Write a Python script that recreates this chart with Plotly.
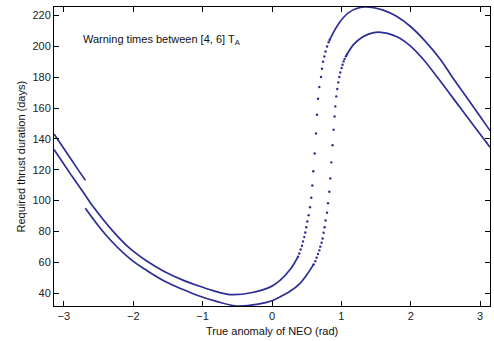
import plotly.graph_objects as go

PI = 3.141592653589793

# Short stub of the upper branch at the far left
a_x = [-PI, -3.0, -2.9, -2.8, -2.69]
a_y = [143.2, 133.8, 127.2, 120.4, 113.2]

# Curve B: smooth parts (left / right) and the sparse dots in the steep part
b_left_x = [-PI, -2.9, -2.69, -2.57, -2.3, -2.04, -1.8, -1.56, -1.3, -1.08, -0.85, -0.6, -0.3, 0.0, 0.12, 0.264, 0.32, 0.375]
b_left_y = [133.1, 117.0, 103.4, 95.6, 80.5, 68.6, 60.6, 54.2, 48.7, 45.0, 41.6, 39.0, 40.2, 44.5, 48.4, 55.4, 59.2, 63.6]
b_dot_x = [0.375, 0.393, 0.412, 0.432, 0.447, 0.465, 0.48, 0.494, 0.509, 0.528, 0.548, 0.566, 0.581,
           0.595, 0.614, 0.634, 0.648, 0.663, 0.682, 0.706, 0.72, 0.735, 0.754, 0.772, 0.793, 0.816, 0.83]
b_dot_y = [63.6, 65.7, 68.3, 70.7, 73.5, 76.3, 79.3, 82.7, 86.4, 90.5, 95.7, 101.8, 109.8,
           119.0, 130.5, 143.6, 155.7, 166.1, 173.7, 180.2, 185.5, 190.1, 193.5, 196.7, 200.0, 202.8, 204.2]
b_right_x = [0.83, 0.89, 0.96, 1.03, 1.1, 1.2, 1.34, 1.6, 1.8, 2.0, 2.2, 2.43, 2.6, 2.83, 3.0, PI]
b_right_y = [204.2, 209.5, 214.8, 218.8, 221.8, 224.3, 225.6, 223.6, 219.4, 212.8, 203.8, 191.4, 180.0, 165.4, 154.5, 145.4]

# Curve C: smooth parts and sparse dots
c_left_x = [-2.69, -2.4, -2.04, -1.8, -1.56, -1.3, -1.08, -0.8, -0.5, -0.2, 0.0, 0.12, 0.25, 0.408, 0.504, 0.6]
c_left_y = [95.0, 78.0, 62.0, 54.5, 48.0, 42.6, 38.6, 34.6, 31.6, 32.8, 35.0, 37.6, 40.8, 46.5, 52.0, 58.6]
c_dot_x = [0.6, 0.624, 0.643, 0.663, 0.682, 0.696, 0.715, 0.729, 0.744, 0.758, 0.772, 0.793, 0.807,
           0.826, 0.84, 0.854, 0.873, 0.888, 0.902, 0.912, 0.927, 0.941, 0.955, 0.97, 0.984, 1.003,
           1.017, 1.032, 1.046, 1.066, 1.081]
c_dot_y = [58.6, 60.7, 62.9, 65.3, 67.7, 70.1, 72.6, 75.4, 79.1, 82.7, 87.1, 92.1, 98.3,
           105.7, 114.3, 124.8, 135.9, 146.0, 154.6, 161.1, 167.6, 172.4, 176.7, 180.2, 183.1, 186.0,
           188.1, 190.3, 191.9, 193.6, 194.8]
c_right_x = [1.081, 1.18, 1.3, 1.4, 1.536, 1.8, 2.0, 2.185, 2.4, 2.7, 2.9, PI]
c_right_y = [194.8, 201.5, 206.0, 208.2, 209.3, 206.3, 200.1, 191.4, 179.0, 161.0, 149.0, 134.6]

x_ticks = [-3, -2, -1, 0, 1, 2, 3]
x_tick_text = ["\u22123", "\u22122", "\u22121", "0", "1", "2", "3"]
y_ticks = [40, 60, 80, 100, 120, 140, 160, 180, 200, 220]

COLOR = "#2d2d96"
fig = go.Figure()

def add_line(xs, ys):
    fig.add_trace(go.Scatter(x=xs, y=ys, mode="lines",
                             line=dict(color=COLOR, width=1.7, shape="spline", smoothing=1.0),
                             hoverinfo="skip", showlegend=False))

def add_dots(xs, ys):
    fig.add_trace(go.Scatter(x=xs, y=ys, mode="markers", marker=dict(color=COLOR, size=2.4),
                             hoverinfo="skip", showlegend=False))

add_line(a_x, a_y)
add_line(b_left_x, b_left_y)
add_dots(b_dot_x, b_dot_y)
add_line(b_right_x, b_right_y)
add_line(c_left_x, c_left_y)
add_dots(c_dot_x, c_dot_y)
add_line(c_right_x, c_right_y)

all_y = a_y + b_left_y + b_dot_y + b_right_y + c_left_y + c_dot_y + c_right_y
ymin, ymax = min(all_y), max(all_y)

FONT = "Liberation Sans, Arial, sans-serif"
axis_common = dict(showline=True, linecolor="black", linewidth=1, mirror="ticks", ticks="inside",
                   ticklen=5, tickcolor="black", showgrid=False, zeroline=False, automargin=False,
                   tickfont=dict(family=FONT, size=11, color="#222"))

W, H = 494, 341
ML, MR, MT, MB = 54, 4, 7, 35

fig.update_layout(
    width=W, height=H,
    margin=dict(l=ML, r=MR, t=MT, b=MB),
    paper_bgcolor="white", plot_bgcolor="white",
    xaxis=dict(range=[-PI, PI], tickvals=x_ticks, ticktext=x_tick_text, **axis_common),
    yaxis=dict(range=[ymin, ymax], tickvals=y_ticks, **axis_common),
    annotations=[
        dict(text="Warning times between [4, 6] T<sub>A</sub>", x=0.062, y=0.89, xref="paper", yref="paper",
             xanchor="left", yanchor="middle", showarrow=False,
             font=dict(family=FONT, size=11, color="#111")),
        dict(text="True anomaly of NEO (rad)", x=0.5, y=-(331 - (H - MB)) / (H - MT - MB),
             xref="paper", yref="paper", xanchor="center", yanchor="middle", showarrow=False,
             font=dict(family=FONT, size=11, color="#111")),
        dict(text="Required thrust duration (days)", x=-(ML - 20) / (W - ML - MR), y=0.5,
             xref="paper", yref="paper", xanchor="center", yanchor="middle", textangle=-90, showarrow=False,
             font=dict(family=FONT, size=11, color="#111")),
    ],
)

fig.write_html("out.html", config={"displayModeBar": False},
               post_script="document.body.style.margin='0';document.body.style.overflow='hidden';")
